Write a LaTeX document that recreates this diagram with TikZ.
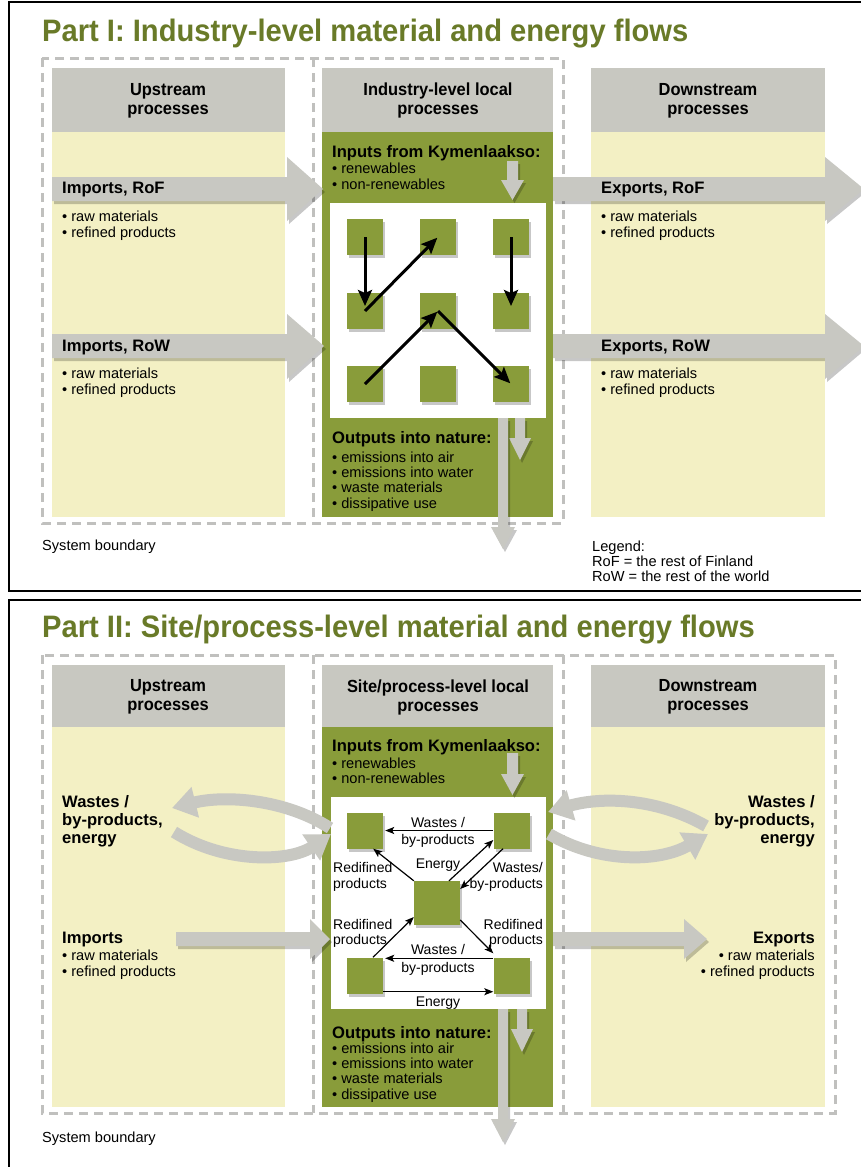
\documentclass[tikz,border=0pt]{standalone}
\usepackage{fontspec}
\setmainfont{Liberation Sans}
\newfontfamily\condfont[FakeStretch=0.94]{Liberation Sans}
\usetikzlibrary{arrows.meta,calc}
\definecolor{titlegreen}{RGB}{105,122,40}
\definecolor{panelgreen}{RGB}{137,156,58}
\definecolor{headgray}{RGB}{200,200,193}
\definecolor{paleyellow}{RGB}{243,240,196}
\definecolor{arrowgray}{RGB}{200,200,194}
\definecolor{dashgray}{RGB}{192,192,190}
\tikzset{
  shd/.style={preaction={fill=black,fill opacity=0.22,transform canvas={xshift=2pt,yshift=-3pt}}},
  txt/.style={inner sep=0pt,anchor=north west,align=left,font=\fontsize{14.6}{16}\selectfont},
  lbl/.style={inner sep=0pt,anchor=north west,align=left,font=\fontsize{16.6}{18}\selectfont\bfseries},
  hdr/.style={inner sep=0pt,align=center,font=\condfont\fontsize{17.5}{19}\selectfont\bfseries},
  ttl/.style={inner sep=0pt,anchor=base west,text=titlegreen,font=\condfont\fontsize{31}{34}\selectfont\bfseries},
  sml/.style={inner sep=0pt,align=center,font=\fontsize{14}{16}\selectfont},
  sq/.style={fill=panelgreen,minimum size=36pt,inner sep=0pt,shd},
  bigsq/.style={fill=panelgreen,minimum width=46pt,minimum height=44pt,inner sep=0pt,shd},
  bound/.style={dashgray,line width=3pt,dash pattern=on 9pt off 6pt},
  frame/.style={draw=black,line width=1.3pt},
  thick arrow/.style={line width=3pt,-{Stealth[length=16pt,width=14pt,inset=3pt]},shorten >=1pt},
  thin arrow/.style={line width=1.2pt,-{Stealth[length=9pt,width=7pt,inset=2pt]}},
  curved/.style={arrowgray,line width=12pt,-{Triangle[length=24pt,width=30pt]}},
}
\begin{document}
\begin{tikzpicture}[x=1pt,y=-1pt]
\clip (0,0) rectangle (861,1167);
\fill[white] (0,0) rectangle (861,1167);
% ---------------- frames
\draw[frame] (9,2) rectangle (880,591);
\draw[frame] (9,600) rectangle (880,1185);

% ================= PART I =================
\node[ttl] (t1) at (42,41) {Part I: Industry-level material and energy flows};
% columns
\fill[headgray] (52,68) rectangle (285,132);
\fill[paleyellow] (52,132) rectangle (285,517);
\fill[headgray] (322,68) rectangle (553,132);
\fill[panelgreen] (322,132) rectangle (553,517);
\fill[headgray] (591,68) rectangle (825,132);
\fill[paleyellow] (591,132) rectangle (825,517);
\node[hdr] (h1a) at (168,100.5) {Upstream\\processes};
\node[hdr] (h1b) at (438,100.5) {Industry-level local\\processes};
\node[hdr] (h1c) at (708,100.5) {Downstream\\processes};
% boundary
\draw[bound] (42,58) rectangle (563,523);
\draw[bound] (313,58) -- (313,523);
% white panel
\fill[white] (330,203) rectangle (546,418);
% input arrow
\fill[arrowgray,shd] (507,161) -- (518,161) -- (518,180) -- (524,180) -- (512.5,200) -- (501,180) -- (507,180) -- cycle;
% output arrows
\fill[arrowgray,shd] (515,418) -- (525,418) -- (525,438) -- (531,438) -- (520,460) -- (509,438) -- (515,438) -- cycle;
\fill[arrowgray,shd] (498,418) -- (508,418) -- (508,527) -- (515,527) -- (503,549) -- (491,527) -- (498,527) -- cycle;
% block arrows
\fill[arrowgray,shd] (52,177) -- (287,177) -- (287,157) -- (323,189) -- (287,221) -- (287,201) -- (52,201) -- cycle;
\fill[arrowgray,shd] (52,334) -- (287,334) -- (287,314) -- (324,346) -- (287,379) -- (287,358) -- (52,358) -- cycle;
\fill[arrowgray,shd] (553,177) -- (825,177) -- (825,157) -- (864,189) -- (825,221) -- (825,201) -- (553,201) -- cycle;
\fill[arrowgray,shd] (553,334) -- (825,334) -- (825,314) -- (864,346) -- (825,379) -- (825,358) -- (553,358) -- cycle;
% squares
\node[sq] (a11) at (365,237) {};
\node[sq] (a12) at (438,237) {};
\node[sq] (a13) at (511,237) {};
\node[sq] (a21) at (365,311) {};
\node[sq] (a22) at (438,311) {};
\node[sq] (a23) at (511,311) {};
\node[sq] (a31) at (365,384) {};
\node[sq] (a32) at (438,384) {};
\node[sq] (a33) at (511,384) {};
\draw[thick arrow] (a11.center) -- ([yshift=4pt]a21.center);
\draw[thick arrow] (a21.center) -- (a12.center);
\draw[thick arrow] (a13.center) -- ([yshift=4pt]a23.center);
\draw[thick arrow] (a31.center) -- (a22.center);
\draw[thick arrow] (a22.center) -- (a33.center);
% texts
\node[lbl] (imp1) at (62,182) {Imports, RoF};
\node[txt] (imp1b) at (62,210.5) {• raw materials\\• refined products};
\node[lbl] (imp2) at (62,340) {Imports, RoW};
\node[txt] (imp2b) at (62,367.5) {• raw materials\\• refined products};
\node[lbl] (exp1) at (601,182) {Exports, RoF};
\node[txt] (exp1b) at (601,210.5) {• raw materials\\• refined products};
\node[lbl] (exp2) at (601,340) {Exports, RoW};
\node[txt] (exp2b) at (601,367.5) {• raw materials\\• refined products};
\node[lbl] (in1) at (332,145) {Inputs from Kymenlaakso:};
\node[txt] (in1b) at (332,162.5) {• renewables\\• non-renewables};
\node[lbl] (out1) at (332,431) {Outputs into nature:};
\node[txt,font=\fontsize{14.6}{15.3}\selectfont] (out1b) at (332,451.5) {• emissions into air\\• emissions into water\\• waste materials\\• dissipative use};
\node[txt] (sb1) at (42,539.5) {System boundary};
\node[txt,font=\fontsize{14.6}{15}\selectfont] (leg) at (592,540.5) {Legend:\\RoF = the rest of Finland\\RoW = the rest of the world};

% ================= PART II =================
\node[ttl] (t2) at (42,637) {Part II: Site/process-level material and energy flows};
\fill[headgray] (52,665) rectangle (285,727);
\fill[paleyellow] (52,727) rectangle (285,1107);
\fill[headgray] (322,665) rectangle (553,727);
\fill[panelgreen] (322,727) rectangle (553,1107);
\fill[headgray] (591,665) rectangle (825,727);
\fill[paleyellow] (591,727) rectangle (825,1107);
\node[hdr] (h2a) at (168,697) {Upstream\\processes};
\node[hdr] (h2b) at (438,697) {Site/process-level local\\processes};
\node[hdr] (h2c) at (708,697) {Downstream\\processes};
\draw[bound] (42,655) rectangle (835,1113);
\draw[bound] (313,655) -- (313,1113);
\draw[bound] (563,655) -- (563,1113);
\fill[white] (331,797) rectangle (546,1009);
% input / output arrows
\fill[arrowgray,shd] (507,753) -- (518,753) -- (518,774) -- (524,774) -- (512.5,795) -- (501,774) -- (507,774) -- cycle;
\fill[arrowgray,shd] (517,1009) -- (527,1009) -- (527,1029) -- (533,1029) -- (522,1052) -- (511,1029) -- (517,1029) -- cycle;
\fill[arrowgray,shd] (498,1009) -- (508,1009) -- (508,1119) -- (515,1119) -- (503,1142) -- (491,1119) -- (498,1119) -- cycle;
% imports / exports
\fill[arrowgray,shd] (176,932) -- (310,932) -- (310,919) -- (330,939) -- (310,959) -- (310,946) -- (176,946) -- cycle;
\fill[arrowgray,shd] (553,932) -- (684,932) -- (684,919) -- (707,939) -- (684,959) -- (684,946) -- (553,946) -- cycle;
% curved exchange arrows
\draw[curved] (330,828) .. controls (285,799) and (225,795) .. (172,808);
\draw[curved] (174,832) .. controls (225,864) and (290,862) .. (331,834);
\draw[curved] (706,826) .. controls (655,797) and (600,797) .. (548,812);
\draw[curved] (549,834) .. controls (600,864) and (660,862) .. (708,834);
% squares
\node[sq] (tl) at (365,830.5) {};
\node[sq] (tr) at (511.5,830.5) {};
\node[bigsq] (c) at (437,903) {};
\node[sq] (bl) at (365,975.5) {};
\node[sq] (br) at (511.5,975.5) {};
\draw[thin arrow] (tr.west) -- ([xshift=2pt]tl.east);
\draw[thin arrow] (c.north west) -- ([xshift=-10pt]tl.south east);
\draw[thin arrow] ([xshift=12pt]c.north) -- ([yshift=-9.5pt]tr.west);
\draw[thin arrow] ([xshift=-8.5pt]tr.south) -- ([yshift=14pt]c.east);
\draw[thin arrow] ([xshift=8pt]bl.north) -- ([yshift=-14pt]c.west);
\draw[thin arrow] ([yshift=-17pt]c.east) -- ([yshift=4pt]br.north west);
\draw[thin arrow] ([yshift=-1pt]br.north west) -- ([yshift=-1pt,xshift=2pt]bl.north east);
\draw[thin arrow] ([yshift=2pt]bl.south east) -- ([yshift=2pt]br.south west);
\node[sml,anchor=north] (l1) at (438,817) {Wastes /\\[1pt]by-products};
\node[sml,anchor=north west,align=left] (l2) at (333,862) {Redifined\\products};
\node[sml,anchor=north] (l3) at (438,859) {Energy};
\node[sml,anchor=north east,align=right] (l4) at (543,862) {Wastes/\\by-products};
\node[sml,anchor=north west,align=left,font=\fontsize{14}{15}\selectfont] (l5) at (333,919) {Redifined\\products};
\node[sml,anchor=north east,align=right,font=\fontsize{14}{15}\selectfont] (l6) at (543,919) {Redifined\\products};
\node[sml,anchor=north,font=\fontsize{14}{18}\selectfont] (l7) at (438,944) {Wastes /\\by-products};
\node[sml,anchor=north] (l8) at (438,997) {Energy};
% texts
\node[lbl] (w1) at (62,795) {Wastes /\\by-products,\\energy};
\node[lbl,anchor=north east,align=right] (w2) at (815,795) {Wastes /\\by-products,\\energy};
\node[lbl] (imp3) at (62,932) {Imports};
\node[txt] (imp3b) at (62,949.5) {• raw materials\\• refined products};
\node[lbl,anchor=north east,align=right] (exp3) at (815,932) {Exports};
\node[txt,anchor=north east,align=right] (exp3b) at (815,949.5) {• raw materials\\• refined products};
\node[lbl] (in2) at (332,739) {Inputs from Kymenlaakso:};
\node[txt,font=\fontsize{14.6}{15.5}\selectfont] (in2b) at (332,757.5) {• renewables\\• non-renewables};
\node[lbl] (out2) at (332,1026) {Outputs into nature:};
\node[txt,font=\fontsize{14.6}{15.3}\selectfont] (out2b) at (332,1042.5) {• emissions into air\\• emissions into water\\• waste materials\\• dissipative use};
\node[txt] (sb2) at (42,1131.5) {System boundary};
\end{tikzpicture}
\end{document}
